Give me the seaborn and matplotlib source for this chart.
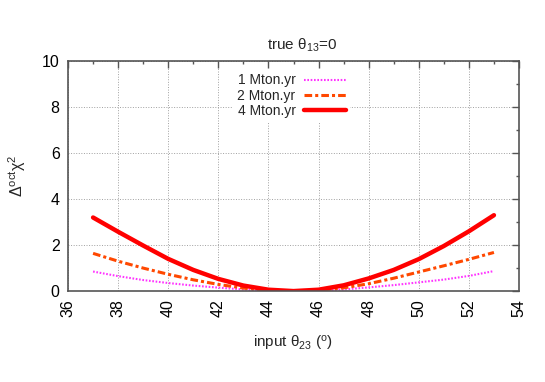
import numpy as np
import pandas as pd
import matplotlib
matplotlib.use("Agg")
import matplotlib.pyplot as plt
from matplotlib.ticker import MultipleLocator
import seaborn as sns

# input theta23 (degrees) and Delta chi^2 (octant) for each exposure
theta23 = [37, 38, 39, 40, 41, 42, 43, 44, 45, 46, 47, 48, 49, 50, 51, 52, 53]
chi2_1mton = [0.85, 0.65, 0.48, 0.35, 0.24, 0.15, 0.07, 0.02, 0.0, 0.02, 0.07, 0.16, 0.26, 0.38, 0.50, 0.66, 0.87]
chi2_2mton = [1.64, 1.30, 1.00, 0.73, 0.49, 0.29, 0.13, 0.03, 0.0, 0.03, 0.14, 0.32, 0.56, 0.83, 1.10, 1.38, 1.68]
chi2_4mton = [3.20, 2.58, 1.98, 1.40, 0.92, 0.53, 0.24, 0.06, 0.0, 0.06, 0.25, 0.55, 0.92, 1.39, 1.96, 2.60, 3.30]
labels = ["1 Mton.yr", "2 Mton.yr", "4 Mton.yr"]

sns.set_style("white")
plt.rcParams['font.family'] = ['Liberation Sans', 'DejaVu Sans']
plt.rcParams['mathtext.default'] = 'regular'

df = pd.DataFrame({
    "theta": theta23 * 3,
    "chi2": chi2_1mton + chi2_2mton + chi2_4mton,
    "exposure": [labels[0]] * len(theta23) + [labels[1]] * len(theta23) + [labels[2]] * len(theta23),
})

fig = plt.figure(figsize=(5.45, 3.82), dpi=100)
ax = fig.add_axes([0.1248, 0.238, 0.8275, 0.602])

palette = {labels[0]: "#ff33ff", labels[1]: "#ff4800", labels[2]: "#ff0000"}
dashes = {labels[0]: (0.8, 0.8), labels[1]: (2.5, 1, 1, 1), labels[2]: ""}
sns.lineplot(data=df, x="theta", y="chi2", hue="exposure", style="exposure",
             palette=palette, dashes=dashes, size="exposure",
             sizes={labels[0]: 1.5, labels[1]: 2.2, labels[2]: 3.2}, ax=ax)

ax.set_xlim(36, 54)
ax.set_ylim(0, 10)
ax.xaxis.set_major_locator(MultipleLocator(2))
ax.xaxis.set_minor_locator(MultipleLocator(1))
ax.yaxis.set_major_locator(MultipleLocator(2))
ax.yaxis.set_minor_locator(MultipleLocator(1))
ax.tick_params(which='both', direction='in', top=True, right=True, colors='#555555',
               labelcolor='black', labelsize=11.5, pad=6)
ax.tick_params(which='major', length=5, width=1)
ax.tick_params(which='minor', length=2.5, width=1)
for lbl in ax.get_xticklabels():
    lbl.set_rotation(90)
for sp in ax.spines.values():
    sp.set_color('#555555')
    sp.set_linewidth(1.2)
ax.grid(True, which='major', color='#a0a0a0', linestyle=':', linewidth=0.7)

ax.set_xlabel(r"input θ$_{23}$ ($^{o}$)", fontsize=11, labelpad=12)
ax.set_ylabel(r"Δ$^{oct}$χ$^{2}$", fontsize=11.5, labelpad=10)
ax.set_title(r"true θ$_{13}$=0", fontsize=11, pad=8, x=0.52)

leg = ax.legend(handles=ax.get_lines()[:3], labels=labels, loc='upper right',
                bbox_to_anchor=(0.64, 0.995), markerfirst=False, fontsize=10,
                handlelength=3.0, labelspacing=0.1, frameon=True, fancybox=False,
                borderpad=0.3, handletextpad=0.6)
leg.get_frame().set_facecolor('white')
leg.get_frame().set_edgecolor('none')
leg.get_frame().set_alpha(1)

fig.savefig("out.png", dpi=100)
